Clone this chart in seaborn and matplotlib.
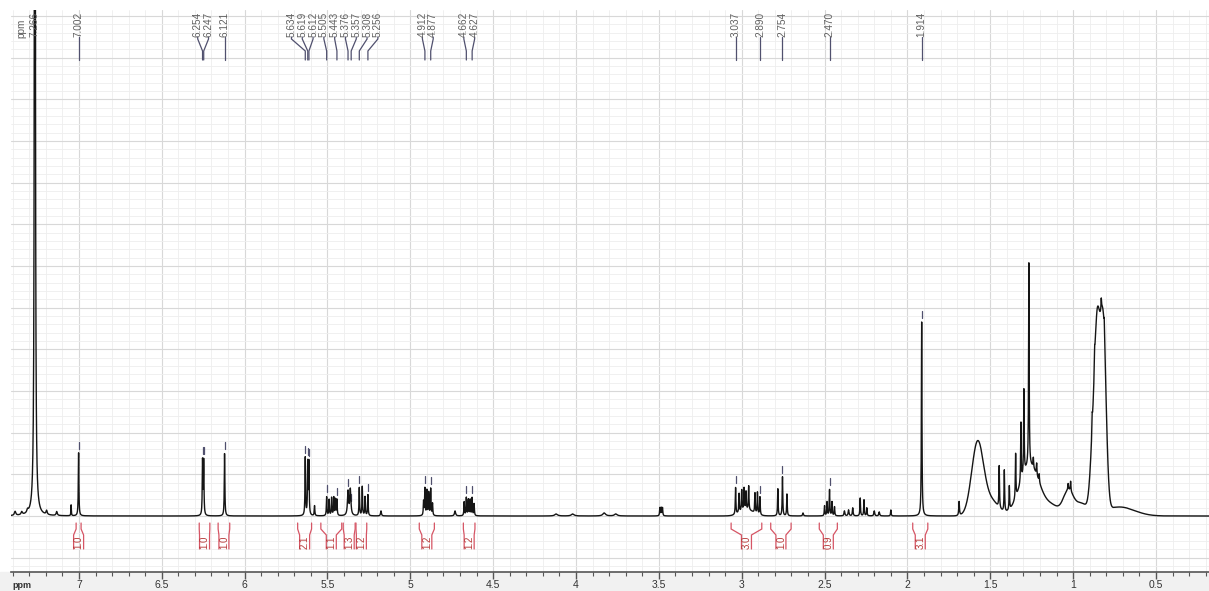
import numpy as np
import pandas as pd
import matplotlib
matplotlib.use("Agg")
import matplotlib.pyplot as plt
from matplotlib.ticker import MultipleLocator, FuncFormatter
from matplotlib.patches import Rectangle
import seaborn as sns

# --- sharp lines (Lorentzian): ppm, height, fwhm (ppm)
line_ppm = [7.385, 7.345, 7.31, 7.266, 7.195, 7.134, 7.047, 7.002,
            6.254, 6.247, 6.121,
            5.634, 5.619, 5.612, 5.578,
            5.505, 5.490, 5.475, 5.462, 5.452, 5.443,
            5.376, 5.362, 5.308, 5.290, 5.273, 5.256, 5.177,
            4.920, 4.912, 4.900, 4.889, 4.877, 4.866, 4.730,
            4.675, 4.662, 4.650, 4.639, 4.627, 4.615,
            4.12, 4.02, 3.83, 3.76, 3.494, 3.486, 3.478,
            3.037, 3.016, 3.000, 2.986, 2.974, 2.958, 2.920, 2.905, 2.890,
            2.782, 2.754, 2.727, 2.63,
            2.500, 2.485, 2.470, 2.455, 2.440,
            2.38, 2.355, 2.33, 2.285, 2.262, 2.245, 2.20, 2.17, 2.10,
            1.914, 1.688,
            1.446, 1.415, 1.385, 1.347, 1.315, 1.297, 1.267, 1.240, 1.220, 1.205,
            1.030, 1.015, 0.885, 0.870, 0.830, 0.812]
line_height = [4, 3, 3, 1500, 4, 4, 11, 63,
               54, 54, 63,
               58, 52, 52, 10,
               19, 16, 18, 18, 16, 16,
               24, 26, 28, 29, 19, 21, 5,
               14, 27, 25, 23, 27, 12, 5,
               14, 18, 16, 16, 18, 12,
               2, 2, 3, 2, 8, 8, 8,
               27, 19, 21, 22, 18, 24, 20, 22, 18,
               27, 39, 22, 3,
               10, 14, 26, 14, 9,
               5, 6, 8, 18, 16, 8, 5, 4, 6,
               194, 14,
               42, 42, 24, 45, 60, 85, 205, 10, 12, 8,
               6, 10, 15, 15, 12, 15]
line_fwhm = [0.01, 0.01, 0.01, 0.005, 0.008, 0.008, 0.003, 0.004,
             0.004, 0.004, 0.004,
             0.004, 0.004, 0.004, 0.004,
             0.004, 0.004, 0.004, 0.004, 0.004, 0.004,
             0.008, 0.008, 0.004, 0.004, 0.004, 0.004, 0.006,
             0.004, 0.004, 0.004, 0.004, 0.004, 0.004, 0.008,
             0.004, 0.004, 0.004, 0.004, 0.004, 0.004,
             0.02, 0.02, 0.02, 0.02, 0.004, 0.004, 0.004,
             0.004, 0.004, 0.004, 0.004, 0.004, 0.004, 0.004, 0.004, 0.004,
             0.004, 0.004, 0.004, 0.006,
             0.004, 0.004, 0.004, 0.004, 0.004,
             0.006, 0.006, 0.005, 0.004, 0.004, 0.004, 0.006, 0.006, 0.004,
             0.004, 0.005,
             0.004, 0.004, 0.004, 0.004, 0.004, 0.004, 0.004, 0.004, 0.004, 0.004,
             0.004, 0.004, 0.004, 0.004, 0.004, 0.004]

# --- broad humps (Gaussian): ppm, height, sigma (ppm)
hump_ppm = [2.97, 1.576, 1.49, 1.26, 1.12, 1.03, 0.95, 0.885, 0.855, 0.818, 0.72]
hump_height = [6, 74, 14, 50, 8, 24, 12, 45, 180, 180, 9]
hump_sigma = [0.04, 0.036, 0.04, 0.06, 0.04, 0.03, 0.04, 0.015, 0.017, 0.017, 0.09]

# --- picked peaks
peak_labels = [7.266, 7.002, 6.254, 6.247, 6.121, 5.634, 5.619, 5.612, 5.505,
               5.443, 5.376, 5.357, 5.308, 5.256, 4.912, 4.877, 4.662, 4.627,
               3.037, 2.890, 2.754, 2.470, 1.914]

# --- integrals
integ_start = [7.017, 6.274, 6.160, 5.680, 5.540, 5.405, 5.328, 4.946, 4.680, 3.064, 2.825, 2.532, 1.968]
integ_end = [6.987, 6.210, 6.090, 5.596, 5.414, 5.333, 5.263, 4.855, 4.610, 2.879, 2.702, 2.423, 1.877]
integ_value = ["1.0", "1.0", "1.0", "2.1", "1.1", "1.3", "1.2", "1.2", "1.2", "3.0", "1.0", "0.9", "3.1"]

PX_PER_PPM = 165.7
XMAX, XMIN = 7.41, 0.18
LBL_COL = "#50506e"
INT_COL = "#d65565"


def spectrum(x):
    y = np.zeros_like(x)
    for p, h, w in zip(line_ppm, line_height, line_fwhm):
        g = (w / 2) ** 2
        y += h * g / (g + (x - p) ** 2)
    for p, h, s in zip(hump_ppm, hump_height, hump_sigma):
        y += h * np.exp(-(x - p) ** 2 / (2 * s ** 2))
    return y


def spread(xs, gap):
    # push crowded labels apart, keeping each cluster centred on its peaks
    clusters = [[v] for v in sorted(xs, reverse=True)]

    def place(c):
        c0 = np.mean(c) + gap * (len(c) - 1) / 2
        return [c0 - i * gap for i in range(len(c))]

    merged = True
    while merged:
        merged = False
        for i in range(len(clusters) - 1):
            a, b = place(clusters[i]), place(clusters[i + 1])
            if a[-1] - b[0] < gap:
                clusters[i] = clusters[i] + clusters[i + 1]
                del clusters[i + 1]
                merged = True
                break
    out = []
    for c in clusters:
        out += place(c)
    return out


sns.set_theme(style="white")
plt.rcParams["font.family"] = ["Liberation Sans", "DejaVu Sans"]

ppm = np.arange(XMIN, XMAX, 0.0004)
df = pd.DataFrame({"ppm": ppm, "intensity": spectrum(ppm)})

fig = plt.figure(figsize=(12.09, 5.91), dpi=100)
fig.patches.append(Rectangle((0, 0), 1, 19 / 591, transform=fig.transFigure,
                             color="#f1f1f1", zorder=-5))
ax = fig.add_axes([11 / 1209, 19 / 591, 1198 / 1209, 562 / 591])
ax.set_facecolor("white")

sns.lineplot(data=df, x="ppm", y="intensity", ax=ax, color="#151515",
             lw=1.0, estimator=None, sort=False, zorder=3)

ax.set_xlim(XMAX, XMIN)
ax.set_ylim(-56, 506)
ax.set_xlabel("")
ax.set_ylabel("")

ax.xaxis.set_major_locator(MultipleLocator(0.5))
ax.xaxis.set_minor_locator(MultipleLocator(0.1))
ax.yaxis.set_major_locator(MultipleLocator(41.67))
ax.yaxis.set_minor_locator(MultipleLocator(41.67 / 5))
ax.xaxis.set_major_formatter(FuncFormatter(lambda v, p: "%g" % round(v, 2)))
ax.set_axisbelow(True)
ax.grid(which="major", color="#d8d8d8", lw=0.8)
ax.grid(which="minor", color="#eeeeee", lw=0.6)
ax.tick_params(axis="y", which="both", left=False, labelleft=False)
ax.tick_params(axis="x", which="major", bottom=True, length=5, width=1,
               color="#555555", labelsize=7.5, labelcolor="#333333", pad=0.5)
ax.tick_params(axis="x", which="minor", bottom=True, length=3, width=0.8,
               color="#555555")
for s in ["left", "top", "right"]:
    ax.spines[s].set_visible(False)
ax.spines["bottom"].set_color("#555555")
ax.spines["bottom"].set_linewidth(1.2)

# peak labels with connectors
gap = 10.8 / PX_PER_PPM
label_pos = spread(peak_labels, gap)
for pk, lx in zip(sorted(peak_labels, reverse=True), label_pos):
    ax.text(lx, 479, "%.3f" % pk, rotation=90, ha="center", va="bottom",
            fontsize=7.2, color="#606060")
    ax.plot([lx, lx, pk, pk], [479, 477, 465, 456], color=LBL_COL, lw=0.9,
            solid_joinstyle="miter")
    top = spectrum(np.array([pk]))[0]
    if top + 12 < 440:
        ax.plot([pk, pk], [top + 4, top + 11], color=LBL_COL, lw=0.9)

ax.text(0.009, 0.985, "ppm", rotation=90, ha="center", va="top",
        fontsize=7.2, color="#606060", transform=ax.transAxes)

# integrals
half = 5 / PX_PER_PPM
for a, b, v in zip(integ_start, integ_end, integ_value):
    c = (a + b) / 2
    for e, inner in [(a, c + half), (b, c - half)]:
        ax.plot([e, e, inner, inner], [-7, -13, -19, -33], color=INT_COL,
                lw=0.9, solid_joinstyle="miter")
    ax.text(c, -26, v, rotation=90, ha="center", va="center", fontsize=7,
            color="#b83a3a")

fig.text(12 / 1209, 3 / 591, "ppm", fontsize=6.5, fontweight="bold",
         color="#333333")

fig.savefig("out.png", dpi=100)
